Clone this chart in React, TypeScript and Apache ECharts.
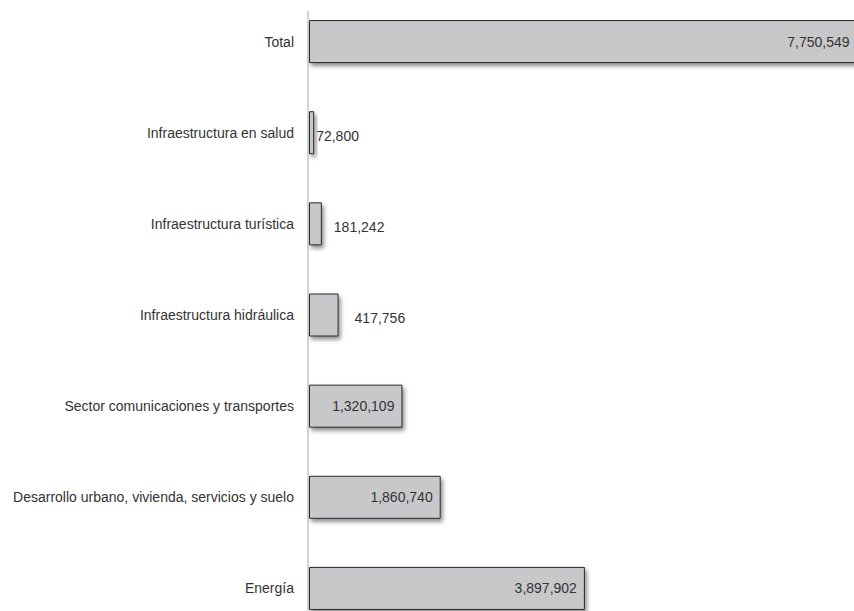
import React, { useEffect, useRef } from "react";
import * as echarts from "echarts";

const categories = [
  "Total",
  "Infraestructura en salud",
  "Infraestructura turística",
  "Infraestructura hidráulica",
  "Sector comunicaciones y transportes",
  "Desarrollo urbano, vivienda, servicios y suelo",
  "Energía",
];

const values = [7750549, 72800, 181242, 417756, 1320109, 1860740, 3897902];

// Bars wide enough to hold their own label get it inside, the rest outside
const insideLabelMin = 1000000;

const FONT = "'Liberation Sans Narrow', 'Arial Narrow', 'Liberation Sans', sans-serif";

const fmt = (v: number) => v.toLocaleString("en-US");

export default function App() {
  const ref = useRef<HTMLDivElement>(null);

  useEffect(() => {
    if (!ref.current) return;
    const chart = echarts.init(ref.current, null, { renderer: "svg" });

    const data = values.map((v) => {
      const inside = v >= insideLabelMin;
      return {
        value: v,
        label: inside
          ? { position: "insideRight", distance: 8, offset: [0, 0] }
          : { position: "right", distance: v > 300000 ? 16 : v > 100000 ? 12 : 2, offset: [0, 3] },
      };
    });

    chart.setOption({
      animation: false,
      backgroundColor: "#ffffff",
      grid: { left: 309, right: 0, top: 0, bottom: 0, containLabel: false },
      xAxis: {
        type: "value",
        min: 0,
        max: 7700000,
        show: false,
      },
      yAxis: {
        type: "category",
        data: categories,
        inverse: true,
        axisLine: { show: false },
        axisTick: { show: false },
        splitLine: { show: false },
        axisLabel: {
          margin: 15,
          color: "#333333",
          fontFamily: FONT,
          fontSize: 14,
        },
      },
      graphic: [
        {
          type: "line",
          shape: { x1: 308, y1: 15, x2: 308, y2: 640 },
          style: { stroke: "#d4d4d4", lineWidth: 2 },
          z: 0,
        },
      ],
      series: [
        {
          type: "bar",
          data,
          barWidth: 43,
          clip: false,
          itemStyle: {
            color: "#c8c8ca",
            borderColor: "#2a2a2a",
            borderWidth: 1,
            shadowColor: "rgba(0,0,0,0.45)",
            shadowBlur: 4,
            shadowOffsetX: 2,
            shadowOffsetY: 3,
          },
          label: {
            show: true,
            color: "#333333",
            fontFamily: FONT,
            fontSize: 14,
            formatter: (p: any) => fmt(p.value),
          },
          z: 2,
        },
      ],
    });

    return () => chart.dispose();
  }, []);

  return (
    <div
      ref={ref}
      style={{ width: 854, height: 638, position: "fixed", left: 0, top: -4 }}
    />
  );
}
